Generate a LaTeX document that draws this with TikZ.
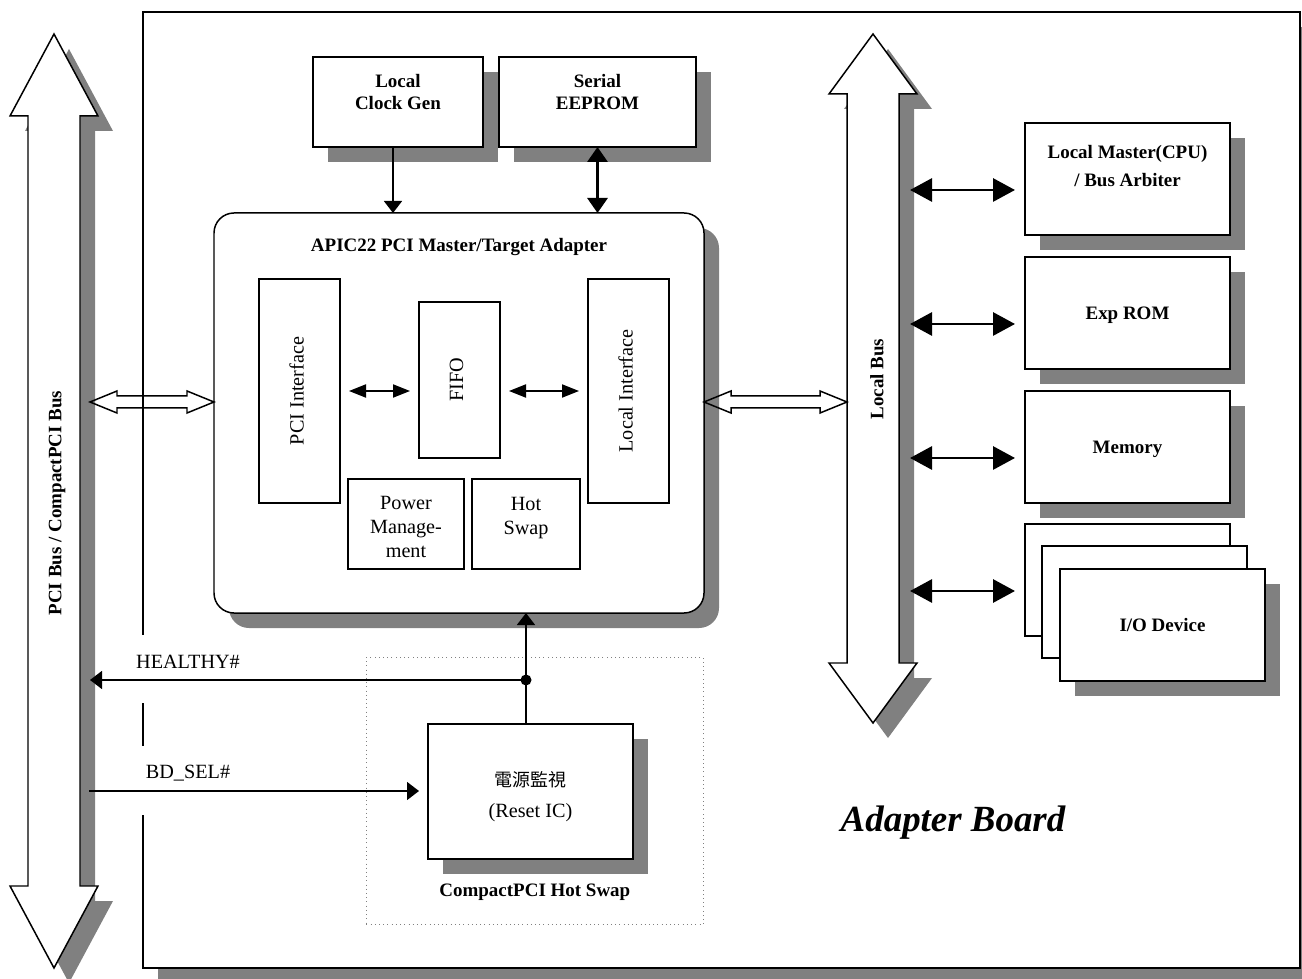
\documentclass[tikz,border=0pt]{standalone}
\usepackage{fontspec}
\setmainfont{Liberation Serif}
\newfontfamily\cjk{Noto Sans CJK TC}
\usetikzlibrary{calc,arrows.meta,shadows}
\definecolor{shadowgray}{RGB}{128,128,128}
\def\busarrow(#1)(#2)(#3){\draw[busline] (#1) -- ++(44,#3) -- ++(-18,0) -- ($(#2)+(26,-#3)$) -- ++(18,0) -- (#2) -- ++(-44,-#3) -- ++(18,0) -- ($(#1)+(-26,#3)$) -- ++(-18,0) -- cycle;}
\def\hollowarrow(#1)(#2){\draw[line width=0.85pt] (#1) -- ++(27,-11) -- ++(0,5) -- ($(#2)+(-27,-6)$) -- ++(0,-5) -- (#2) -- ++(-27,11) -- ++(0,-5) -- ($(#1)+(27,6)$) -- ++(0,5) -- cycle;}
\tikzset{
	shd/.style={drop shadow={shadow xshift=3mm, shadow yshift=-3mm, fill=shadowgray, opacity=1}},
	blk/.style={draw, fill=white, line width=0.85pt, inner sep=0pt, outer sep=0pt, anchor=north west, align=center},
	busline/.style={draw, fill=white, line width=0.85pt, shd},
	frame/.style={line width=0.85pt},
	bf/.style={font=\fontsize{10.8}{12.5}\selectfont\bfseries, align=center, inner sep=0pt},
	rm/.style={font=\fontsize{11.5}{13.4}\selectfont, align=center, inner sep=0pt},
	sig/.style={line width=0.85pt, -{Triangle[length=2.4mm,width=3.6mm]}},
	eeparr/.style={line width=1.7pt, {Triangle[length=3mm,width=4mm]}-{Triangle[length=3mm,width=4mm]}},
	busarr/.style={line width=1.7pt, {Triangle[length=4.4mm,width=4.6mm]}-{Triangle[length=4.4mm,width=4.6mm]}, shorten >=2mm},
	inarr/.style={line width=1.1pt, {Triangle[length=3.4mm,width=2.6mm]}-{Triangle[length=3.4mm,width=2.6mm]}, shorten <=1.8mm, shorten >=1.8mm}
}

\begin{document}
\begin{tikzpicture}[x=0.2mm,y=-0.2mm]
				\useasboundingbox (0,0) rectangle (1302,979);
				\fill[white,shd] (143,12) rectangle (1300,968);
				
				\coordinate (pcitop) at (54,34);
				\coordinate (pcibot) at (54,968);
				\coordinate (lbtop) at (873,34);
				\coordinate (lbbot) at (873,723);
				\busarrow(pcitop)(pcibot)(82)
				\busarrow(lbtop)(lbbot)(60)
				
				\draw[frame] (143,635) -- (143,12) -- (1300,12) -- (1300,968) -- (143,968) -- (143,815);
				\draw[frame] (143,703) -- (143,746);
				
				\node[blk,shd,minimum width=34mm,minimum height=18mm] (clk) at (313,57) {};
				\node[blk,shd,minimum width=39.4mm,minimum height=18mm] (eep) at (499,57) {};
				\node[bf] (clkt) at ($(clk.center)+(0,-10)$) {Local\\Clock Gen};
				\node[bf] (eept) at ($(eep.center)+(0,-10)$) {Serial\\EEPROM};
				
				\node[blk,shd,rounded corners=4mm,minimum width=98mm,minimum height=80mm] (apic) at (214,213) {};
				\node[bf] (apict) at ($(apic.north)+(0,34)$) {APIC22 PCI Master/Target Adapter};
				\node[blk,minimum width=16.2mm,minimum height=44.8mm] (pciif) at (259,279) {};
				\node[blk,minimum width=16.2mm,minimum height=31.2mm] (fifo) at (419,302) {};
				\node[blk,minimum width=16.2mm,minimum height=44.8mm] (locif) at (588,279) {};
				\node[rm,rotate=90] (pciift) at ($(pciif.center)+(-3,0)$) {PCI Interface};
				\node[rm,rotate=90] (fifot) at ($(fifo.center)+(-3,0)$) {FIFO};
				\node[rm,rotate=90] (locift) at ($(locif.center)+(-3,0)$) {Local Interface};
				\node[blk,minimum width=23.2mm,minimum height=18mm] (pwr) at (348,479) {};
				\node[blk,minimum width=21.6mm,minimum height=18mm] (hot) at (472,479) {};
				\node[rm] (pwrt) at ($(pwr.center)+(0,3)$) {Power\\Manage-\\ment};
				\node[rm] (hott) at ($(hot.center)+(0,-6)$) {Hot\\Swap};
				
				\draw[inarr] (pciif.east) -- (pciif.east -| fifo.west);
				\draw[inarr] (locif.west -| fifo.east) -- (locif.west);
				\coordinate (clkout) at ([xshift=-1mm]clk.south);
				\draw[sig] (clkout) -- (clkout |- apic.north);
				\draw[eeparr] (eep.south) -- (eep.south |- apic.north);
				
				\node[blk,shd,minimum width=41mm,minimum height=22.4mm] (lm) at (1025,123) {};
				\node[bf] (lmt) at ($(lm.center)+(0,-13)$) {Local Master(CPU)\\[3.5pt]/ Bus Arbiter};
				\node[blk,shd,minimum width=41mm,minimum height=22.4mm] (rom) at (1025,257) {};
				\node[blk,shd,minimum width=41mm,minimum height=22.4mm] (mem) at (1025,391) {};
				\node[bf] (romt) at ($(rom.center)+(0,2)$) {Exp ROM};
				\node[bf] (memt) at ($(mem.center)+(0,2)$) {Memory};
				\node[blk,minimum width=41mm,minimum height=22.4mm] (io1) at (1025,524) {};
				\node[blk,minimum width=41mm,minimum height=22.4mm] (io2) at (1042,546) {};
				\node[blk,bf,shd,minimum width=41mm,minimum height=22.4mm] (io3) at (1060,569) {I/O Device};
				
				\coordinate (lbe) at (910,0);
				\path (lm.west) ++(0,11) coordinate (lma);
				\path (rom.west) ++(0,11) coordinate (roma);
				\path (mem.west) ++(0,11) coordinate (mema);
				\path (io1.west) ++(0,11) coordinate (io1a);
				\draw[busarr] (lbe |- lma) -- (lma);
				\draw[busarr] (lbe |- roma) -- (roma);
				\draw[busarr] (lbe |- mema) -- (mema);
				\draw[busarr] (lbe |- io1a) -- (io1a);
				
				\coordinate (pcie) at (90,402);
				\coordinate (lbw) at (847,402);
				\hollowarrow(pcie)(pcie -| apic.west)
				\hollowarrow(apic.east |- pcie)(lbw)
				
				\node[bf,rotate=90] (pcit) at (57,503) {PCI Bus / CompactPCI Bus};
				\node[bf,rotate=90] (lbt) at (877,379) {Local Bus};
				
				\node[draw=gray,dotted,line width=0.4pt,inner sep=0pt,anchor=north west,minimum width=67.4mm,minimum height=53.4mm] (hs) at (366,657) {};
				\node[bf] (hst) at ($(hs.south)+(0,-32)$) {CompactPCI Hot Swap};
				\node[blk,shd,minimum width=41mm,minimum height=27mm] (rst) at (428,724) {};
				\node[rm] (rstt) at ($(rst.center)+(0,5)$) {{\cjk\fontsize{10.2}{12}\selectfont 電源監視}\\[4.5pt](Reset IC)};
				
				\coordinate (jn) at (526,680);
				\coordinate (bd) at (89,791);
				\draw[sig] (jn |- rst.north) -- (jn |- apic.south);
				\draw[sig] (jn) -- (jn -| pcie);
				\fill (jn) circle (1.1mm);
				\draw[sig,shorten >=1.8mm] (bd) -- (bd -| rst.west);
				\node[rm] (hlt) at (188,662) {HEALTHY\#};
				\node[rm] (bdt) at (188,773) {BD\_SEL\#};
				
				\node[font=\fontsize{21}{24}\selectfont\bfseries\itshape] (abt) at (953,823) {Adapter Board};
			\end{tikzpicture}
\end{document}
